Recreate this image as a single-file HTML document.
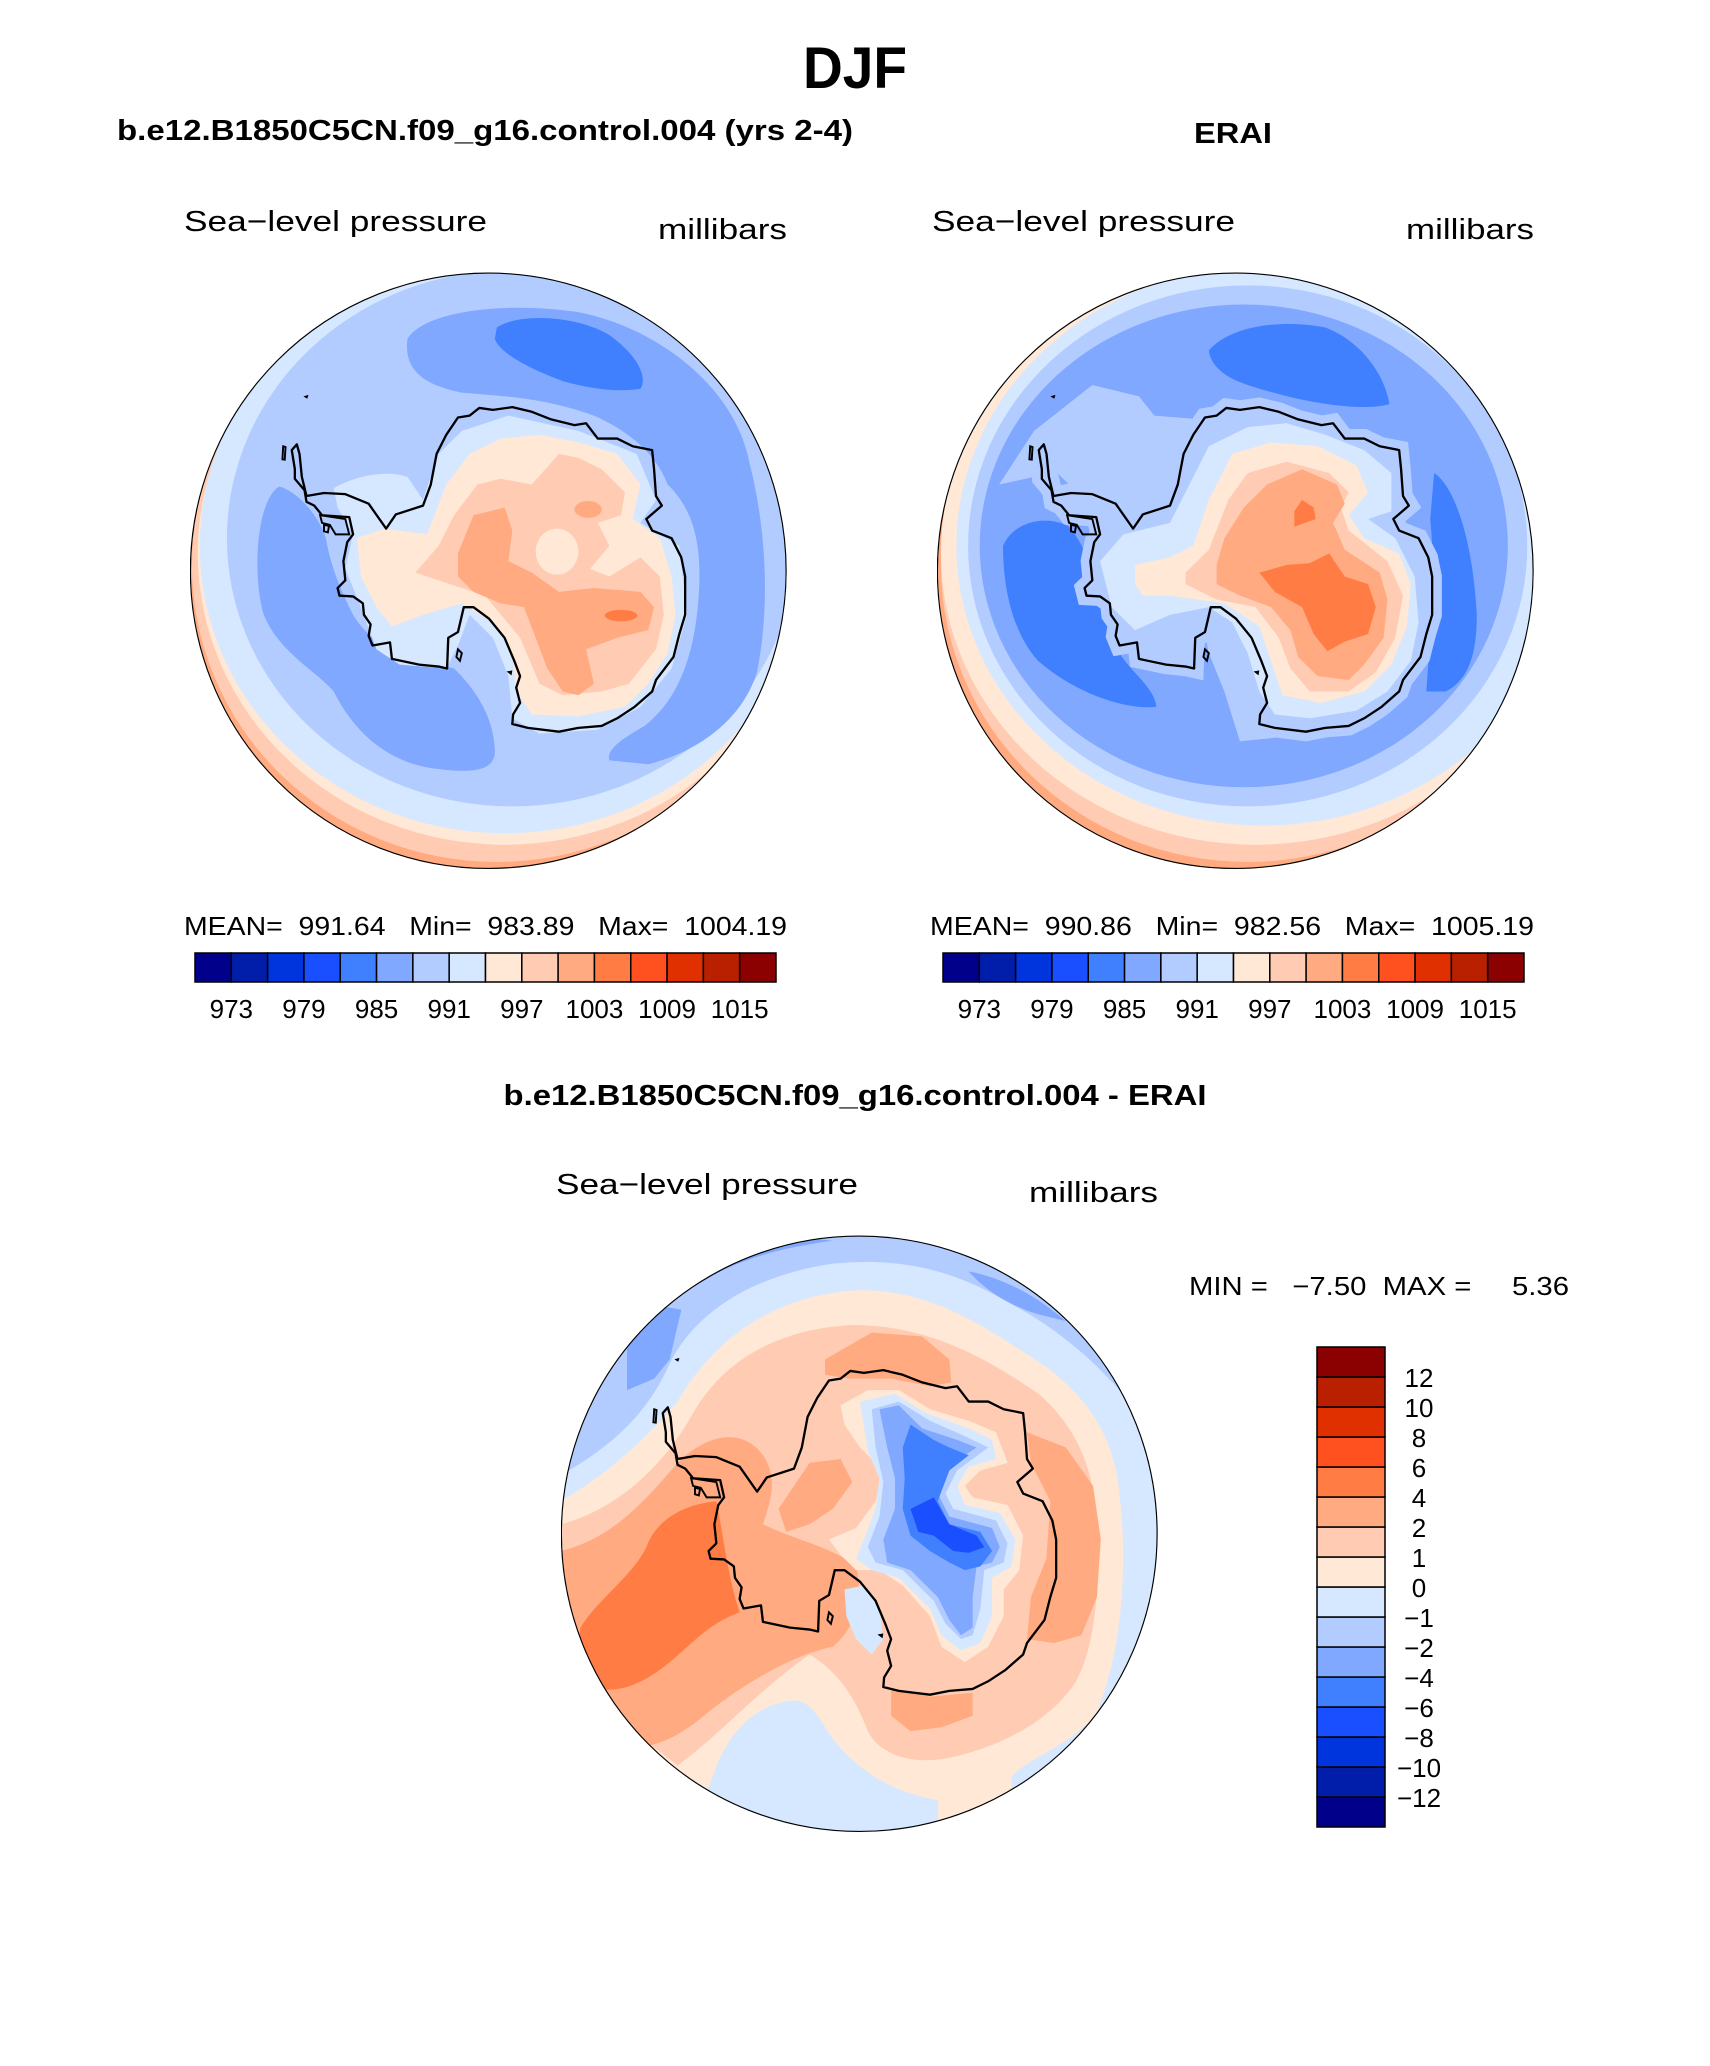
<!DOCTYPE html>
<html><head><meta charset="utf-8"><style>
html,body{margin:0;padding:0;background:#fff;}
svg text{font-family:"Liberation Sans",sans-serif;fill:#000;white-space:pre;}
.t{font-weight:bold;}
.th{font-weight:normal;}
</style></head><body>
<svg id="page" width="1710" height="2061" viewBox="0 0 1710 2061" xmlns="http://www.w3.org/2000/svg" xml:space="preserve">
<defs>
<clipPath id="circ"><ellipse cx="768" cy="785" rx="767" ry="777"/></clipPath>
<path id="coast" d="M505 675 L460 610 L400 585 L345 582 L300 590 L288 540 L282 480 L275 455 L262 470 L270 520 L270 545 L295 575 L300 605 L320 615 L340 640 L410 645 L420 690 L405 710 L395 760 L400 810 L380 830 L385 850 L420 852 L445 870 L448 900 L465 925 L460 955 L470 980 L515 972 L520 1015 L590 1030 L640 1035 L662 1040 L665 960 L690 945 L705 880 L730 880 L770 910 L810 960 L835 1020 L850 1060 L840 1090 L850 1130 L832 1160 L830 1185 L870 1195 L950 1205 L1000 1195 L1060 1190 L1100 1170 L1145 1140 L1190 1100 L1200 1070 L1245 1010 L1260 950 L1275 900 L1275 800 L1265 750 L1240 700 L1190 680 L1175 650 L1215 615 L1200 590 L1195 520 L1190 470 L1140 460 L1100 440 L1050 440 L1020 400 L990 405 L930 390 L880 370 L830 358 L780 365 L745 360 L720 380 L690 385 L660 430 L635 480 L620 560 L600 615 L530 638 Z"/>
<g id="islands">
<path d="M292 330 L305 326 L302 336 Z" fill="#000"/>
<path d="M240 460 L246 462 L244 495 L238 494 Z" fill="none" stroke="#000" stroke-width="5"/>
<path d="M335 640 L400 650 L410 690 L375 690 L360 665 L340 660 Z M345 665 L358 668 L355 685 L345 682 Z" fill="none" stroke="#000" stroke-width="5"/>
<path d="M815 1048 L830 1045 L828 1058 Z" fill="#000"/>
<path d="M690 990 L700 1000 L695 1020 L686 1010 Z" fill="none" stroke="#000" stroke-width="5"/>
<path d="M40 490 L50 505 L35 520 Z" fill="none" stroke="#000" stroke-width="4"/>
</g>
</defs>

<text class="t" x="855" y="88" font-size="58" text-anchor="middle" textLength="104" lengthAdjust="spacingAndGlyphs">DJF</text>
<text class="t" x="117" y="140" font-size="29" textLength="736" lengthAdjust="spacingAndGlyphs">b.e12.B1850C5CN.f09_g16.control.004 (yrs 2-4)</text>
<text class="t" x="1194" y="143" font-size="29" textLength="78" lengthAdjust="spacingAndGlyphs">ERAI</text>

<text class="th" x="184" y="231" font-size="29" textLength="303" lengthAdjust="spacingAndGlyphs">Sea−level pressure</text>
<text class="th" x="658" y="239" font-size="29" textLength="129" lengthAdjust="spacingAndGlyphs">millibars</text>
<text class="th" x="932" y="231" font-size="29" textLength="303" lengthAdjust="spacingAndGlyphs">Sea−level pressure</text>
<text class="th" x="1406" y="239" font-size="29" textLength="128" lengthAdjust="spacingAndGlyphs">millibars</text>

<!-- Model map -->
<svg x="190" y="270" width="600" height="600" viewBox="0 0 1545 1566" preserveAspectRatio="none">
<g clip-path="url(#circ)">
<rect x="0" y="0" width="1545" height="1566" fill="#FFAA80"/>
<ellipse cx="790" cy="770" rx="785" ry="775" fill="#FFCCB3"/>
<ellipse cx="810" cy="740" rx="790" ry="760" fill="#FFE8D6"/>
<ellipse cx="810" cy="720" rx="785" ry="750" fill="#D6E8FF"/>
<ellipse cx="830" cy="700" rx="735" ry="700" fill="#B3CCFF"/>
<path fill="#80A8FF" d="M230 565 C170 600 160 800 190 900 C230 1000 330 1050 370 1100 C420 1200 500 1280 620 1300 C700 1310 790 1320 785 1250 C780 1150 720 1080 680 1040 L560 1010 C500 990 450 950 420 900 C380 820 360 760 350 700 C330 640 280 580 230 565 Z"/>
<path fill="#80A8FF" d="M560 180 C600 110 800 80 1000 110 C1200 150 1400 300 1440 500 C1490 700 1490 900 1460 1050 C1420 1180 1300 1260 1180 1290 L1080 1280 C1070 1250 1120 1220 1170 1190 C1260 1120 1300 1000 1310 850 C1320 700 1290 620 1230 560 C1200 480 1130 420 1040 380 C900 330 800 330 700 320 C600 300 550 260 560 180 Z"/>
<path fill="#4080FF" d="M790 150 C850 110 1000 120 1080 170 C1150 220 1180 280 1160 310 C1100 320 1030 310 960 290 C880 260 800 220 785 180 Z"/>
<path fill="#D6E8FF" d="M370 570 C420 540 500 520 560 540 L600 600 L640 480 L700 420 L820 380 L1000 420 L1150 480 L1200 600 L1160 660 L1260 720 L1280 900 L1240 1040 L1160 1140 L1050 1200 L900 1210 L830 1170 L820 1060 L780 960 L720 900 L690 980 L660 1040 L540 1030 L480 990 L440 880 L400 780 L420 690 L380 620 Z"/>
<path fill="#FFE8D6" d="M430 700 L500 675 L610 690 L660 560 L720 480 L800 440 L900 430 L1000 450 L1100 480 L1160 560 L1140 650 L1210 700 L1240 800 L1250 900 L1230 1000 L1180 1080 L1120 1140 L1000 1165 L880 1160 L840 1100 L830 1000 L780 920 L700 870 L600 900 L520 930 L480 880 L440 800 Z"/>
<path fill="#FFCCB3" d="M580 790 L640 720 L680 640 L740 560 L800 545 L880 560 L950 480 L1000 490 L1060 520 L1120 580 L1110 640 L1050 660 L1080 720 L1030 780 L1080 800 L1160 750 L1210 800 L1220 900 L1200 990 L1130 1080 L1060 1100 L960 1110 L900 1080 L850 960 L760 850 L640 810 Z"/>
<ellipse cx="945" cy="735" rx="55" ry="60" fill="#FFE8D6"/>
<path fill="#FFAA80" d="M690 740 L730 640 L810 620 L830 680 L820 760 L880 790 L950 840 L1040 830 L1160 840 L1195 880 L1180 940 L1100 960 L1020 990 L1040 1080 L1000 1110 L960 1100 L920 1040 L890 960 L860 880 L800 870 L730 840 L690 800 Z"/>
<ellipse cx="1025" cy="625" rx="35" ry="22" fill="#FFAA80"/>
<ellipse cx="1110" cy="902" rx="42" ry="15" fill="#FF7D45"/>
<use href="#coast" fill="none" stroke="#000" stroke-width="6" stroke-linejoin="round"/>
<use href="#islands"/>
</g>
<ellipse cx="768" cy="785" rx="767" ry="777" fill="none" stroke="#000" stroke-width="3"/>
</svg>

<!-- ERAI map -->
<svg x="937" y="270" width="600" height="600" viewBox="0 0 1545 1566" preserveAspectRatio="none">
<g clip-path="url(#circ)">
<rect x="0" y="0" width="1545" height="1566" fill="#FFAA80"/>
<ellipse cx="800" cy="770" rx="790" ry="775" fill="#FFCCB3"/>
<ellipse cx="820" cy="740" rx="810" ry="760" fill="#FFE8D6"/>
<ellipse cx="840" cy="720" rx="790" ry="730" fill="#D6E8FF"/>
<ellipse cx="800" cy="720" rx="720" ry="680" fill="#B3CCFF"/>
<ellipse cx="790" cy="720" rx="680" ry="630" fill="#80A8FF"/>
<path fill="#B3CCFF" d="M160 560 L250 420 L400 300 L520 330 L560 380 L680 390 L700 450 L640 560 L560 640 L500 680 L400 620 L300 520 L250 540 Z"/>
<path fill="#4080FF" d="M700 210 C760 140 900 130 1000 150 C1080 180 1150 260 1165 350 C1100 370 950 350 800 300 C740 280 705 250 700 210 Z"/>
<path fill="#4080FF" d="M170 720 C200 650 290 640 340 670 C400 740 430 880 470 1000 C500 1050 560 1090 565 1140 C480 1150 350 1100 260 1020 C190 940 170 820 170 720 Z"/>
<path fill="#4080FF" d="M1280 530 C1330 560 1380 700 1390 900 C1390 1000 1370 1070 1310 1100 L1260 1100 C1270 950 1285 800 1270 650 Z"/>
<path fill="#B3CCFF" d="M680 900 L760 900 L820 980 L850 1100 L840 1200 L880 1220 L780 1230 L740 1100 L700 1000 Z"/>
<use href="#coast" fill="#B3CCFF" stroke="#B3CCFF" stroke-width="50"/>
<path fill="#D6E8FF" d="M420 760 L480 690 L600 660 L650 560 L700 460 L800 410 L900 400 L1000 430 L1100 470 L1170 530 L1170 630 L1110 650 L1180 700 L1230 800 L1240 920 L1220 1020 L1160 1100 L1080 1150 L960 1170 L870 1160 L830 1100 L800 1000 L760 920 L700 880 L600 900 L510 940 L450 880 Z"/>
<path fill="#FFE8D6" d="M510 770 L600 750 L660 720 L700 600 L760 480 L860 450 L980 460 L1080 510 L1110 580 L1060 640 L1100 700 L1190 740 L1220 820 L1210 930 L1170 1030 L1100 1100 L990 1130 L890 1110 L860 1020 L830 930 L740 870 L600 850 L530 850 L510 820 Z"/>
<path fill="#FFCCB3" d="M640 790 L700 730 L750 600 L800 530 L900 500 L1010 530 L1060 580 L1040 620 L1060 680 L1160 760 L1200 850 L1180 960 L1130 1050 L1060 1100 L960 1100 L910 1040 L880 960 L820 880 L720 860 L640 820 Z"/>
<path fill="#FFAA80" d="M720 770 L740 700 L790 620 L850 560 L940 520 L1030 560 L1050 610 L1020 660 L1050 730 L1140 790 L1160 860 L1150 960 L1100 1030 L1060 1070 L980 1060 L930 1010 L910 940 L860 880 L780 850 L720 820 Z"/>
<path fill="#FF7D45" d="M830 790 L900 770 L960 765 L1010 740 L1050 800 L1110 820 L1130 880 L1110 950 L1050 970 L1005 995 L970 950 L940 880 L870 840 Z"/>
<path fill="#FF7D45" d="M920 630 L940 600 L970 620 L975 650 L920 670 Z"/>
<use href="#coast" fill="none" stroke="#000" stroke-width="6" stroke-linejoin="round"/>
<use href="#islands"/>
</g>
<ellipse cx="768" cy="785" rx="767" ry="777" fill="none" stroke="#000" stroke-width="3"/>
</svg>

<text class="th" x="184" y="935" font-size="26" textLength="603" lengthAdjust="spacingAndGlyphs">MEAN=  991.64   Min=  983.89   Max=  1004.19</text>
<text class="th" x="930" y="935" font-size="26" textLength="604" lengthAdjust="spacingAndGlyphs">MEAN=  990.86   Min=  982.56   Max=  1005.19</text>
<g id="cb-model"></g>
<g id="cb-obs"></g>

<text class="t" x="855" y="1105" font-size="29" text-anchor="middle" textLength="703" lengthAdjust="spacingAndGlyphs">b.e12.B1850C5CN.f09_g16.control.004 - ERAI</text>
<text class="th" x="556" y="1194" font-size="29" textLength="302" lengthAdjust="spacingAndGlyphs">Sea−level pressure</text>
<text class="th" x="1029" y="1202" font-size="29" textLength="129" lengthAdjust="spacingAndGlyphs">millibars</text>
<text class="th" x="1189" y="1295" font-size="26" textLength="380" lengthAdjust="spacingAndGlyphs">MIN =   −7.50  MAX =     5.36</text>

<!-- Difference map -->
<svg x="561" y="1233" width="600" height="600" viewBox="0 0 1545 1566" preserveAspectRatio="none">
<g clip-path="url(#circ)">
<rect x="0" y="0" width="1545" height="1566" fill="#D6E8FF"/>
<path fill="#B3CCFF" d="M-10 620 L20 620 C120 560 220 480 280 340 C350 200 500 110 700 80 C900 60 1030 110 1150 180 C1300 260 1400 360 1480 460 L1560 460 L1560 -10 L-10 -10 Z"/>
<path fill="#80A8FF" d="M170 300 L250 190 L310 200 L280 330 L240 380 L170 410 Z"/>
<path fill="#80A8FF" d="M360 130 C450 70 560 40 700 20 L600 10 L380 60 Z"/>
<path fill="#80A8FF" d="M1050 100 C1150 120 1230 170 1300 230 L1240 215 C1180 200 1100 160 1050 100 Z"/>
<path fill="#FFE8D6" d="M0 700 C100 640 200 560 300 440 C380 300 520 170 750 150 C950 140 1100 250 1250 350 C1380 450 1430 560 1440 700 C1460 900 1440 1100 1380 1250 C1330 1330 1200 1370 1160 1420 L1160 1570 L970 1570 L970 1480 C850 1460 760 1400 700 1320 C660 1260 640 1220 600 1220 C500 1230 430 1300 390 1420 L330 1570 L0 1570 Z"/>
<path fill="#FFCCB3" d="M0 760 C150 720 270 600 340 470 C420 330 560 250 750 240 C950 240 1100 330 1230 420 C1320 500 1370 600 1380 750 C1390 950 1370 1100 1320 1180 C1250 1280 1130 1340 1000 1370 C900 1390 820 1360 790 1300 C760 1220 720 1150 640 1100 C500 1200 420 1300 300 1390 L250 1350 L0 1230 Z"/>
<path fill="#FFAA80" d="M0 830 C120 800 200 720 300 600 C380 520 470 510 520 580 C560 640 540 700 520 760 C600 800 700 820 760 870 C780 950 760 1030 700 1080 C600 1100 480 1170 380 1250 C300 1320 220 1360 150 1330 L0 1200 Z"/>
<path fill="#FFAA80" d="M680 330 L800 260 L930 270 L1000 330 L1005 390 L950 400 L850 380 L740 380 L680 370 Z"/>
<path fill="#FFAA80" d="M1200 520 L1300 560 L1370 660 L1390 800 L1380 950 L1340 1050 L1270 1070 L1200 1060 L1210 950 L1250 850 L1260 700 L1210 600 Z"/>
<path fill="#FFAA80" d="M850 1190 L950 1210 L1060 1200 L1060 1260 L980 1290 L900 1300 L850 1260 Z"/>
<path fill="#FF7D45" d="M50 1030 C100 950 180 900 220 820 C240 760 300 710 400 700 C420 800 430 900 460 990 C380 1020 340 1070 280 1120 C220 1170 160 1200 100 1190 C60 1150 40 1090 50 1030 Z"/>
<path fill="#FFAA80" d="M560 720 L640 600 L720 590 L750 650 L700 720 L640 760 L580 780 Z"/>
<path fill="#D6E8FF" d="M730 930 L780 920 L820 980 L830 1060 L800 1100 L760 1060 L735 1000 Z"/>
<path fill="#FFE8D6" d="M720 450 L790 410 L870 410 L950 460 L1050 490 L1120 520 L1150 600 L1080 620 L1040 660 L1060 690 L1150 710 L1190 790 L1180 880 L1140 930 L1140 1000 L1100 1080 L1040 1120 L980 1080 L950 1000 L880 920 L820 880 L760 880 L720 840 L690 800 L760 770 L810 700 L830 620 L770 560 L730 500 Z"/>
<path fill="#D6E8FF" d="M770 440 L860 420 L940 470 L1050 510 L1110 540 L1120 590 L1050 610 L1020 660 L1040 710 L1130 730 L1170 800 L1160 870 L1110 900 L1110 1000 L1080 1070 L1030 1090 L980 1050 L950 980 L870 900 L800 880 L760 850 L780 800 L810 720 L820 640 L790 570 Z"/>
<path fill="#B3CCFF" d="M800 460 L870 440 L950 490 L1040 530 L1100 560 L1060 590 L1020 620 L990 680 L1010 720 L1120 750 L1150 810 L1140 860 L1090 880 L1080 980 L1060 1050 L1030 1060 L990 1020 L960 960 L880 880 L810 860 L790 820 L820 740 L830 650 L810 560 Z"/>
<path fill="#80A8FF" d="M820 460 L870 450 L930 510 L1020 540 L1070 560 L1010 600 L970 680 L1000 740 L1110 770 L1130 820 L1110 860 L1070 870 L1060 950 L1060 1030 L1030 1050 L1000 1010 L970 950 L900 880 L840 860 L830 800 L860 720 L860 640 L840 560 Z"/>
<path fill="#4080FF" d="M900 500 L960 540 L1000 560 L1050 580 L1000 620 L970 700 L1000 760 L1080 780 L1110 830 L1080 870 L1040 880 L1000 860 L950 830 L900 790 L880 720 L885 640 L880 560 Z"/>
<path fill="#1A4FFF" d="M900 720 L960 690 L1000 760 L1070 790 L1090 820 L1050 835 L1010 830 L960 790 L920 780 Z"/>
<use href="#coast" fill="none" stroke="#000" stroke-width="6" stroke-linejoin="round"/>
<use href="#islands"/>
</g>
<ellipse cx="768" cy="785" rx="767" ry="777" fill="none" stroke="#000" stroke-width="3"/>
</svg>

<g id="cb-diff"></g>
</svg>

<script>
const NS = "http://www.w3.org/2000/svg";
const colors = ["#00008B","#001EAA","#0034DD","#1A4FFF","#4080FF","#80A8FF","#B3CCFF","#D6E8FF","#FFE8D6","#FFCCB3","#FFAA80","#FF7D45","#FF5020","#E03000","#B82000","#8B0000"];
const slpLevels = [973,976,979,982,985,988,991,994,997,1000,1003,1006,1009,1012,1015];
const slpLabels = ["973","979","985","991","997","1003","1009","1015"];
const diffLevels = [-12,-10,-8,-6,-4,-2,-1,0,1,2,4,6,8,10,12];
const diffLabels = ["−12","−10","−8","−6","−4","−2","−1","0","1","2","4","6","8","10","12"];

function hbar(id, x0, x1, y0, y1) {
  const g = document.getElementById(id);
  const n = colors.length, w = (x1 - x0) / n;
  colors.forEach((c, i) => {
    const r = document.createElementNS(NS, "rect");
    r.setAttribute("x", x0 + i * w); r.setAttribute("y", y0);
    r.setAttribute("width", w); r.setAttribute("height", y1 - y0);
    r.setAttribute("fill", c); r.setAttribute("stroke", "#000"); r.setAttribute("stroke-width", "1.5");
    
    
    g.appendChild(r);
  });
  slpLevels.forEach((v, i) => {
    const s = String(v);
    if (slpLabels.indexOf(s) < 0) return;
    const t = document.createElementNS(NS, "text");
    t.setAttribute("x", x0 + (i + 1) * w); t.setAttribute("y", 1018);
    t.setAttribute("font-size", "26"); t.setAttribute("text-anchor", "middle");
    t.textContent = s;
    
    
    g.appendChild(t);
  });
}
hbar("cb-model", 195, 776, 953, 982);
hbar("cb-obs", 943, 1524, 953, 982);

(function () {
  const g = document.getElementById("cb-diff");
  const x0 = 1317, x1 = 1385, y0 = 1347, y1 = 1827;
  const n = colors.length, h = (y1 - y0) / n;
  colors.forEach((c, i) => {
    const r = document.createElementNS(NS, "rect");
    r.setAttribute("x", x0); r.setAttribute("y", y1 - (i + 1) * h);
    r.setAttribute("width", x1 - x0); r.setAttribute("height", h);
    r.setAttribute("fill", c); r.setAttribute("stroke", "#000"); r.setAttribute("stroke-width", "1.5");
    
    
    g.appendChild(r);
  });
  diffLevels.forEach((v, i) => {
    const t = document.createElementNS(NS, "text");
    t.setAttribute("x", 1419); t.setAttribute("y", y1 - (i + 1) * h + 10);
    t.setAttribute("font-size", "26"); t.setAttribute("text-anchor", "middle");
    t.textContent = diffLabels[i];
    
    
    g.appendChild(t);
  });
})();
</script>
</body></html>
